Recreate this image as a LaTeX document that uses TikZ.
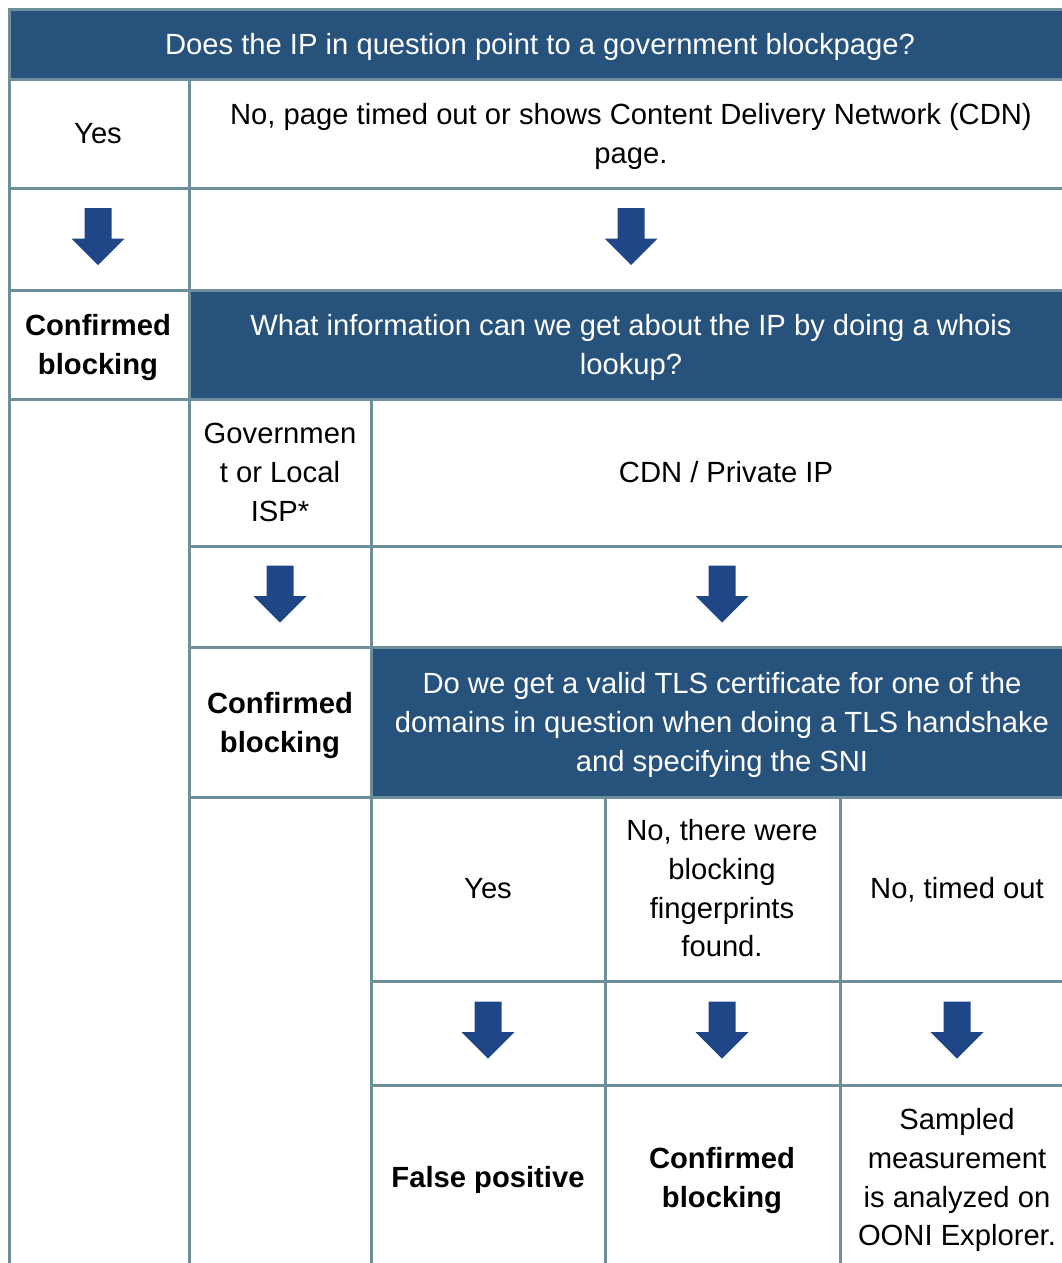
\documentclass[tikz,border=0pt]{standalone}
\usepackage{fontspec}
\setmainfont{Liberation Sans}
\definecolor{hdr}{HTML}{27527C}
\definecolor{gridc}{HTML}{6E8E99}
\definecolor{arr}{HTML}{1F4788}
\begin{document}
\begin{tikzpicture}[x=1pt,y=-1pt,
  txt/.style={align=center, inner sep=0pt, font=\fontsize{29.2}{38.8}\selectfont,
    execute at begin node=\strut, execute at end node=\strut},
  boldtxt/.style={txt, font=\fontsize{29.2}{38.8}\selectfont\bfseries},
  hdtxt/.style={txt, text=white},
  gridline/.style={draw=gridc, line width=3pt},
  hdrfill/.style={fill=hdr},
  downarrow/.pic={\fill[arr] (-13.5,-28.5) -- (13.5,-28.5) -- (13.5,2) -- (26.5,2) -- (0,28.5) -- (-26.5,2) -- (-13.5,2) -- cycle;}
]
\useasboundingbox (0,0) rectangle (1062,1263);
\clip (0,0) rectangle (1062,1263);

% header fills
\fill[hdrfill] (9,9.5) rectangle (1080,79.5);
\fill[hdrfill] (189.5,290) rectangle (1080,399);
\fill[hdrfill] (371,647) rectangle (1080,797);

% grid lines
\draw[gridline] (9,9.5) -- (1080,9.5);
\draw[gridline] (9,79.5) -- (1080,79.5);
\draw[gridline] (9,188) -- (1080,188);
\draw[gridline] (9,290) -- (1080,290);
\draw[gridline] (9,399) -- (1080,399);
\draw[gridline] (189.5,546) -- (1080,546);
\draw[gridline] (189.5,647) -- (1080,647);
\draw[gridline] (189.5,797) -- (1080,797);
\draw[gridline] (371,981) -- (1080,981);
\draw[gridline] (371,1085) -- (1080,1085);
\draw[gridline] (9,8) -- (9,1270);
\draw[gridline] (189.5,79.5) -- (189.5,1270);
\draw[gridline] (371,399) -- (371,1270);
\draw[gridline] (605.5,797) -- (605.5,1270);
\draw[gridline] (840,797) -- (840,1270);

% texts
\node[hdtxt] (q1) at (540,47) {Does the IP in question point to a government blockpage?};
\node[txt] (yes1) at (98,136) {Yes};
\node[txt] (no1) at (631,139) {No, page timed out or shows Content Delivery Network (CDN)\\page.};
\node[boldtxt] (cb1) at (98,350) {Confirmed\\blocking};
\node[hdtxt] (q2) at (631,350) {What information can we get about the IP by doing a whois\\lookup?};
\node[txt] (gov) at (280,478) {Governmen\\t or Local\\ISP*};
\node[txt] (cdn) at (726,475) {CDN / Private IP};
\node[boldtxt] (cb2) at (280,728) {Confirmed\\blocking};
\node[hdtxt] (q3) at (722,728) {Do we get a valid TLS certificate for one of the\\domains in question when doing a TLS handshake\\and specifying the SNI};
\node[txt] (yes3) at (488,891) {Yes};
\node[txt] (fp3) at (722,894) {No, there were\\blocking\\fingerprints\\found.};
\node[txt] (to3) at (957,891) {No, timed out};
\node[boldtxt] (falsep) at (488,1180) {False positive};
\node[boldtxt] (cb3) at (722,1183) {Confirmed\\blocking};
\node[txt] (samp) at (957,1183) {Sampled\\measurement\\is analyzed on\\OONI Explorer.};

% arrows
\coordinate (a1) at (98,236.5);
\coordinate (a2) at (631,236.5);
\coordinate (a3) at (280,594);
\coordinate (a4) at (722,594);
\coordinate (a5) at (488,1030);
\coordinate (a6) at (722,1030);
\coordinate (a7) at (957,1030);
\foreach \c in {a1,a2,a3,a4,a5,a6,a7} { \pic at (\c) {downarrow}; }
\end{tikzpicture}
\end{document}
